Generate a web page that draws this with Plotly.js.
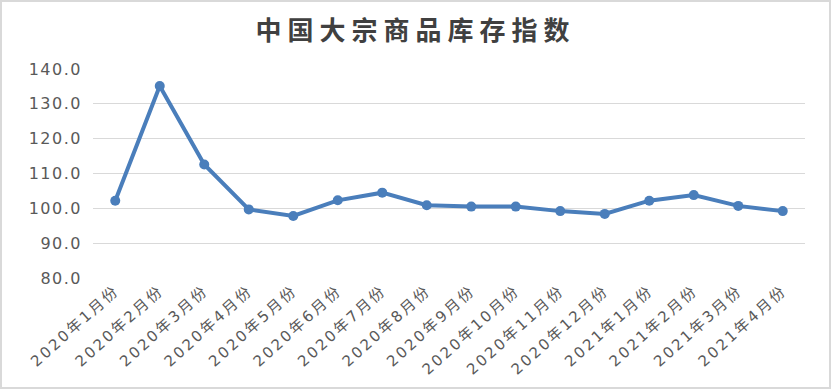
<!DOCTYPE html>
<html>
<head>
<meta charset="utf-8">
<script src="https://cdn.plot.ly/plotly-3.0.1.min.js"></script>
<style>
html,body{margin:0;padding:0;background:#fff;}
#chart{width:831px;height:389px;box-sizing:border-box;border:2px solid #d9d9d9;}
#chart .gtitle{letter-spacing:6px;}
#chart .xtick text{letter-spacing:2.5px;}
#chart .ytick text{letter-spacing:1.5px;}
</style>
</head>
<body>
<div id="chart"></div>
<script>
const categories = ["2020年1月份","2020年2月份","2020年3月份","2020年4月份","2020年5月份","2020年6月份","2020年7月份","2020年8月份","2020年9月份","2020年10月份","2020年11月份","2020年12月份","2021年1月份","2021年2月份","2021年3月份","2021年4月份"];
const values = [102.2, 135.1, 112.6, 99.7, 97.8, 102.3, 104.5, 100.9, 100.5, 100.5, 99.2, 98.4, 102.2, 103.8, 100.7, 99.2];
const yTicks = [80, 90, 100, 110, 120, 130, 140];

const trace = {
  x: categories,
  y: values,
  type: 'scatter',
  mode: 'lines+markers',
  line: {color: '#4a7ebb', width: 4},
  marker: {color: '#4a7ebb', size: 10},
  hoverinfo: 'x+y'
};

const layout = {
  width: 827, height: 385,
  margin: {l: 91, r: 24, t: 67, b: 109},
  paper_bgcolor: '#fff', plot_bgcolor: '#fff',
  showlegend: false,
  title: {
    text: '<b>中国大宗商品库存指数</b>',
    font: {family: '"Noto Sans CJK SC", sans-serif', size: 26, color: '#404040'},
    x: 0.5, xanchor: 'center', y: 0.925, yanchor: 'middle'
  },
  xaxis: {
    type: 'category',
    range: [-0.5, 15.5],
    tickangle: -42,
    tickfont: {family: '"DejaVu Sans", "Noto Sans CJK SC", sans-serif', size: 15, color: '#595959'},
    showgrid: false, showline: false, ticks: '', zeroline: false
  },
  yaxis: {
    range: [80, 140],
    tickvals: yTicks,
    tickformat: '.1f',
    tickfont: {family: '"DejaVu Sans", sans-serif', size: 16, color: '#595959'},
    showgrid: true, gridcolor: '#d9d9d9', gridwidth: 1,
    showline: false, zeroline: false, ticks: '', ticklabelstandoff: 10
  }
};

Plotly.newPlot('chart', [trace], layout, {displayModeBar: false, staticPlot: true});
</script>
</body>
</html>
